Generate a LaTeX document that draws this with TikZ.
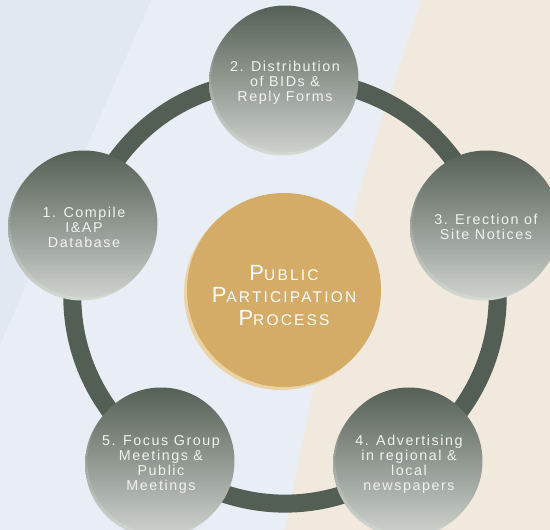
\documentclass[tikz,border=0pt]{standalone}
\usepackage{fontspec}
\setmainfont{Liberation Sans}
\newfontfamily\stepfont[LetterSpace=11]{Liberation Sans}
\newfontfamily\hubfont[LetterSpace=14]{Liberation Sans}
\usetikzlibrary{shadows}
\definecolor{bgblue}{HTML}{E8EDF6}
\definecolor{bgblue2}{HTML}{E2E8F2}
\definecolor{bgbeige}{HTML}{F1E9DD}
\definecolor{ringcol}{HTML}{535F55}
\definecolor{stepdark}{HTML}{556056}
\definecolor{steplight}{HTML}{CDD1CC}
\definecolor{shadowdark}{HTML}{6E766D}
\definecolor{shadowlight}{HTML}{D6DAD5}
\definecolor{hubfill}{HTML}{D4AB67}
\definecolor{hubrim}{HTML}{EBD3A6}
\definecolor{txtcol}{HTML}{F0F1EE}
\pgfdeclarelayer{bglayer}
\pgfdeclarelayer{ringlayer}
\pgfsetlayers{bglayer,ringlayer,main}
\newcommand\capl[1]{{\fontsize{22}{23}\selectfont #1}}
\newcommand\stepstrut{\rule{0pt}{17pt}}
\newcommand\hubstrut{\rule{0pt}{26pt}}
\tikzset{
  stepcircle/.style={circle, minimum size=147pt, inner sep=0pt,
    top color=stepdark, bottom color=steplight,
    general shadow={top color=shadowdark, bottom color=shadowlight, shadow xshift=-2.5pt, shadow yshift=-3pt},
    text=txtcol, align=center,
    font=\stepfont\fontsize{14.3}{15}\selectfont},
  hubcircle/.style={circle, minimum size=194pt, inner sep=0pt, fill=hubfill,
    general shadow={fill=hubrim, shadow xshift=-3pt, shadow yshift=-3pt},
    text=white, align=center,
    font=\hubfont\fontsize{15.5}{22.8}\selectfont},
  ringarc/.style={draw=ringcol, line width=18pt}
}
\begin{document}
\begin{tikzpicture}[x=1pt,y=-1pt]
\useasboundingbox (0,0) rectangle (550,530);
\begin{pgfonlayer}{bglayer}
  \fill[bgblue] (0,0) rectangle (550,530);
  \fill[bgblue2] (0,0) -- (151,0) -- (0,345) -- cycle;
  \fill[bgbeige] (421,0) -- (550,0) -- (550,530) -- (285,530) -- (313,390) -- (357,200) -- (388,100) -- cycle;
\end{pgfonlayer}

\node[hubcircle] (hub) at (284,290) {\hubstrut\capl{P}UBLIC\\\capl{P}ARTICIPATION\\\capl{P}ROCESS};

\node[stepcircle] (s1) at (84,224) {\stepstrut 1. Compile\\I\&AP\\Database};
\node[stepcircle] (s2) at (285,79) {\stepstrut 2. Distribution\\of BIDs \&\\Reply Forms};
\node[stepcircle] (s3) at (486,224) {\stepstrut 3. Erection of\\Site Notices};
\node[stepcircle] (s4) at (409,461) {\stepstrut 4. Advertising\\in regional \&\\local\\newspapers};
\node[stepcircle] (s5) at (161,461) {\stepstrut 5. Focus Group\\Meetings \&\\Public\\Meetings};

\begin{pgfonlayer}{ringlayer}
  \draw[ringarc] (s1.center) to[bend left=36] (s2.center);
  \draw[ringarc] (s2.center) to[bend left=36] (s3.center);
  \draw[ringarc] (s3.center) to[bend left=36] (s4.center);
  \draw[ringarc] (s4.center) to[bend left=36] (s5.center);
  \draw[ringarc] (s5.center) to[bend left=36] (s1.center);
\end{pgfonlayer}
\end{tikzpicture}
\end{document}
